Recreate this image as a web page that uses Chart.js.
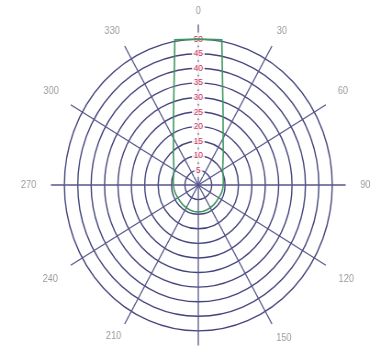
<!DOCTYPE html>
<html>
<head>
<meta charset="utf-8">
<script src="https://cdn.jsdelivr.net/npm/chart.js@4/dist/chart.umd.min.js"></script>
<style>
  html, body { margin: 0; padding: 0; background: #fff; }
  #wrap { width: 381px; height: 351px; overflow: hidden; position: relative; }
  #c { transform-origin: 0 0; transform: scaleX(0.918); }
</style>
</head>
<body>
<div id="wrap"><canvas id="c" width="432" height="365"></canvas></div>
<script>
// Bearings every 10 degrees; only every third one is labelled.
const bearings = ['0','','','30','','','60','','','90','','','120','','','150','','',
                  '180','','','210','','','240','','','270','','','300','','','330','',''];

// Pattern magnitude at each bearing.
const patternValues = [50, 50.5, 27, 18.5, 14.5, 12, 10.5, 9.8, 9.5,
                       9.3, 9.2, 9.0, 8.8, 8.8, 8.9, 9.0, 9.1, 9.2,
                       9.2, 9.2, 9.1, 9.0, 8.9, 8.8, 8.8, 9.0, 9.2,
                       9.3, 9.5, 9.8, 10.5, 12, 14.5, 18.5, 27, 50.5];

// Radial rings and the outer reach of the spokes.
const ringStep = 5;
const ringMax = 50;
const spokeMax = 55;

const gridColor = '#44447c';

// Gap between spoke end and its label, by labelled bearing (every 30 degrees).
const labelGap = [1, 4, 8.5, 9.5, 9.5, 3, 1, 1, 9.5, 9.5, 8.5, 4];

new Chart(document.getElementById('c'), {
  type: 'radar',
  data: {
    labels: bearings,
    datasets: [{
      label: 'pattern',
      data: patternValues,
      borderColor: '#3f9660',
      borderWidth: 1.6,
      backgroundColor: 'transparent',
      fill: false,
      pointRadius: 0,
      tension: 0
    }]
  },
  options: {
    responsive: false,
    devicePixelRatio: 1,
    animation: false,
    layout: { padding: { top: 5, bottom: 0, left: 0, right: 0 } },
    plugins: { legend: { display: false }, tooltip: { enabled: false } },
    scales: {
      r: {
        min: 0,
        max: spokeMax,
        afterBuildTicks: (axis) => {
          axis.ticks = axis.ticks.filter(t => t.value <= ringMax);
        },
        ticks: {
          stepSize: ringStep,
          color: '#d0284f',
          font: { size: 9 },
          backdropColor: 'rgba(255,255,255,0.85)',
          backdropPadding: 2
        },
        grid: { circular: true, color: gridColor, lineWidth: 1.4 },
        angleLines: {
          color: (ctx) => (ctx.index % 3 === 0 ? '#54548a' : 'transparent'),
          lineWidth: 1.3
        },
        pointLabels: {
          color: '#9a9a9a',
          font: { size: 10 },
          padding: (ctx) => (ctx.index % 3 === 0 ? labelGap[ctx.index / 3] : 1)
        }
      }
    }
  }
});
</script>
</body>
</html>
